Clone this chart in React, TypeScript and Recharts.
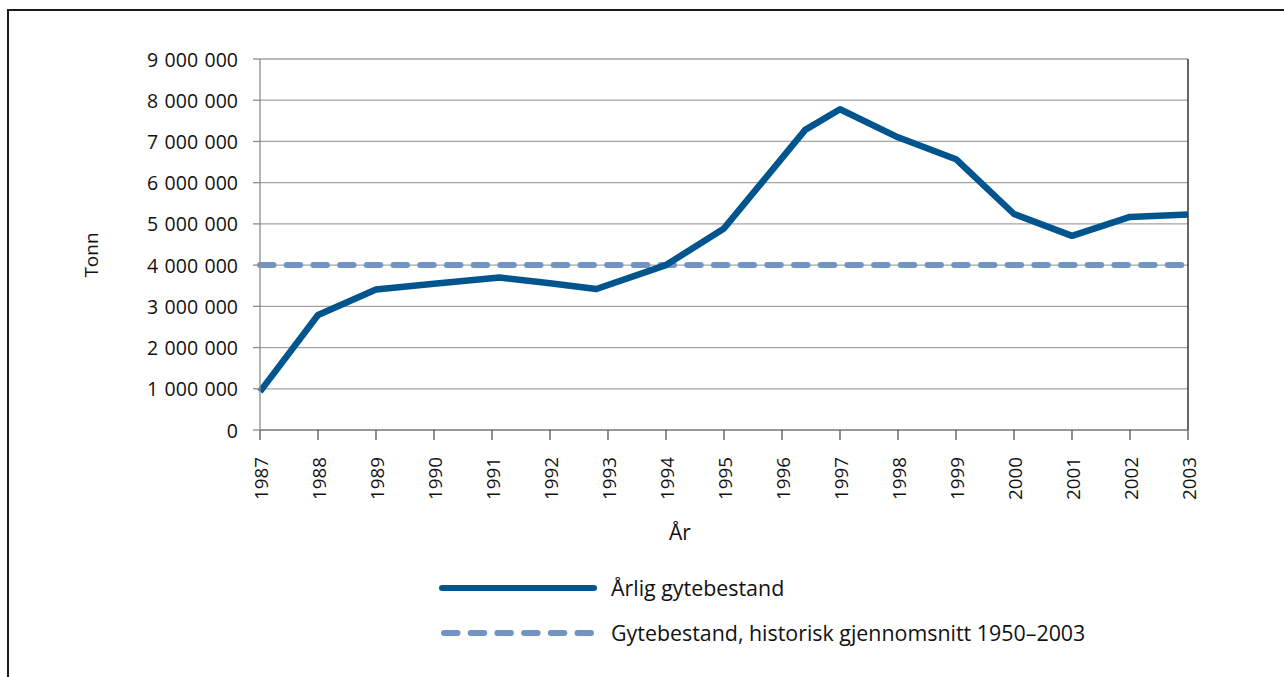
import React from 'react';
import {
    LineChart,
    Line,
    XAxis,
    YAxis,
    CartesianGrid,
    ReferenceLine,
    Legend
} from 'recharts';

// Spawning stock per year (tonnes)
const years = [1987, 1988, 1989, 1990, 1991.13, 1992, 1992.8, 1994, 1995, 1996.4, 1997, 1998, 1999, 2000, 2001, 2002, 2003];
const stock = [930000, 2790000, 3410000, 3550000, 3700000, 3560000, 3420000, 4000000, 4890000, 7280000, 7780000, 7100000, 6570000, 5240000, 4710000, 5170000, 5230000];

// Historical average 1950-2003
const avgYears = [1987, 2003];
const avgStock = [4000000, 4000000];

const yearTicks = [1987, 1988, 1989, 1990, 1991, 1992, 1993, 1994, 1995, 1996, 1997, 1998, 1999, 2000, 2001, 2002, 2003];
const tonnTicks = [0, 1000000, 2000000, 3000000, 4000000, 5000000, 6000000, 7000000, 8000000, 9000000];

const seriesNames = ['Årlig gytebestand', 'Gytebestand, historisk gjennomsnitt 1950–2003'];

const FONT = '"Open Sans", sans-serif';
const DARK_BLUE = '#00558f';
const LIGHT_BLUE = '#7294c4';
const AXIS_GREY = '#8c8c8c';

const data = years.map((year, i) => ({ year, value: stock[i] }));
const avgData = avgYears.map((year, i) => ({ year, avg: avgStock[i] }));

// Norwegian style thousands grouping, e.g. 9 000 000
function formatTonn(v: number): string {
    return String(v).replace(/\B(?=(\d{3})+(?!\d))/g, '\u2004');
}

const YearTick = (props: any) => {
    const { x, payload } = props;
    return (
        <text
            x={x + 1}
            y={457}
            transform={`rotate(-90, ${x + 1}, 457)`}
            textAnchor="end"
            dominantBaseline="central"
            fontFamily={FONT}
            fontSize={18.8}
            fill="#111"
        >
            {payload.value}
        </text>
    );
};

const TonnTick = (props: any) => {
    const { y, payload } = props;
    return (
        <text
            x={238}
            y={y}
            textAnchor="end"
            dominantBaseline="central"
            fontFamily={FONT}
            fontSize={19.5}
            fill="#111"
        >
            {formatTonn(payload.value)}
        </text>
    );
};

const LegendBox = () => (
    <div style={{ position: 'relative', width: 720, height: 90, fontFamily: FONT, fontSize: 21.4, color: '#111' }}>
        <svg width={160} height={90} style={{ position: 'absolute', left: 0, top: 0 }}>
            <line x1={3} y1={18} x2={155} y2={18} stroke={DARK_BLUE} strokeWidth={6} strokeLinecap="round" />
            <line x1={5} y1={63} x2={158} y2={63} stroke={LIGHT_BLUE} strokeWidth={6} strokeDasharray="13.5 13.2" strokeLinecap="round" />
        </svg>
        <div style={{ position: 'absolute', left: 172, top: 0, height: 36, lineHeight: '36px', whiteSpace: 'nowrap' }}>
            {seriesNames[0]}
        </div>
        <div style={{ position: 'absolute', left: 172, top: 45, height: 36, lineHeight: '36px', whiteSpace: 'nowrap' }}>
            {seriesNames[1]}
        </div>
    </div>
);

export default function App() {
    return (
        <div style={{ position: 'absolute', left: 0, top: 0, width: 1284, height: 677, background: '#fff' }}>
            {/* figure frame */}
            <div style={{ position: 'absolute', left: 7, top: 9, right: -4, bottom: -4, borderTop: '2px solid #1a1a1a', borderLeft: '2px solid #1a1a1a' }} />
            <LineChart
                width={1284}
                height={677}
                data={data}
                margin={{ top: 59, right: 96, bottom: 187, left: 0 }}
            >
                <CartesianGrid vertical={false} stroke="#a3a3a3" strokeWidth={1.3} />
                <XAxis
                    dataKey="year"
                    type="number"
                    domain={[1987, 2003]}
                    ticks={yearTicks}
                    interval={0}
                    height={60}
                    tickSize={10}
                    tick={<YearTick />}
                    axisLine={{ stroke: AXIS_GREY, strokeWidth: 1.3 }}
                    tickLine={{ stroke: '#555', strokeWidth: 1.3 }}
                />
                <YAxis
                    type="number"
                    domain={[0, 9000000]}
                    ticks={tonnTicks}
                    interval={0}
                    width={260}
                    tickSize={7}
                    tick={<TonnTick />}
                    axisLine={{ stroke: AXIS_GREY, strokeWidth: 1.3 }}
                    tickLine={{ stroke: AXIS_GREY, strokeWidth: 1.3 }}
                />
                <ReferenceLine x={2003} stroke="#333" strokeWidth={1.5} />
                <Line
                    data={avgData}
                    dataKey="avg"
                    name={seriesNames[1]}
                    type="linear"
                    stroke={LIGHT_BLUE}
                    strokeWidth={6}
                    strokeDasharray="13.5 13.2"
                    strokeLinecap="round"
                    dot={false}
                    activeDot={false}
                    isAnimationActive={false}
                />
                <Line
                    dataKey="value"
                    name={seriesNames[0]}
                    type="linear"
                    stroke={DARK_BLUE}
                    strokeWidth={6.5}
                    strokeLinejoin="round"
                    dot={false}
                    activeDot={false}
                    isAnimationActive={false}
                />
                <Legend
                    layout="vertical"
                    align="center"
                    verticalAlign="middle"
                    content={<LegendBox />}
                    wrapperStyle={{ left: 439, top: 570, width: 720, height: 90 }}
                />
            </LineChart>
            <svg width={1284} height={677} style={{ position: 'absolute', left: 0, top: 0, pointerEvents: 'none' }}>
                <text x={91} y={255} transform="rotate(-90, 91, 255)" textAnchor="middle" dominantBaseline="central" fontFamily={FONT} fontSize={19} fill="#111">Tonn</text>
                <text x={680} y={540} textAnchor="middle" fontFamily={FONT} fontSize={21} fill="#111">År</text>
            </svg>
        </div>
    );
}
